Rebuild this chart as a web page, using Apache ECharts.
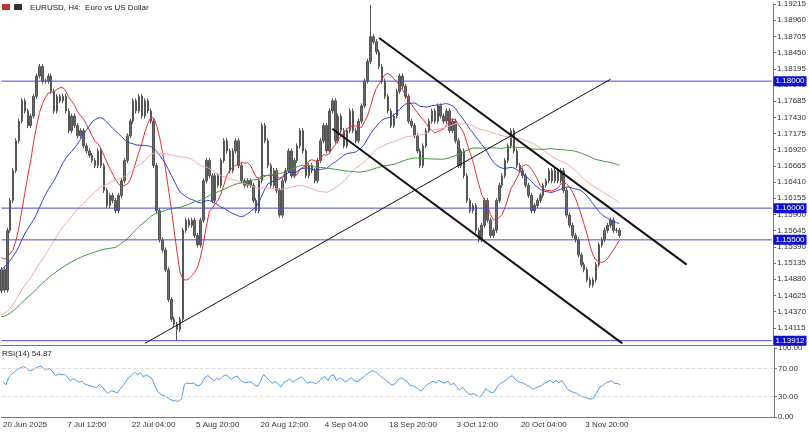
<!DOCTYPE html>
<html><head><meta charset="utf-8">
<script src="https://cdn.jsdelivr.net/npm/echarts@6/dist/echarts.min.js"></script>
<style>html,body{margin:0;padding:0;background:#fff}#c{width:809px;height:432px}</style>
</head><body><div id="c"></div>
<script>
// earlier history (off-screen, only used to warm up the moving averages / RSI)
const priorCloses=[1.1290,1.1310,1.1340,1.1320,1.1290,1.1260,1.1280,1.1310,1.1350,1.1370,1.1350,1.1330,1.1360,1.1390,1.1410,1.1380,1.1350,1.1330,1.1300,1.1320,1.1350,1.1380,1.1400,1.1420,1.1390,1.1370,1.1400,1.1430,1.1450,1.1420,1.1400,1.1380,1.1410,1.1440,1.1470,1.1500,1.1480,1.1450,1.1470,1.1500,1.1530,1.1560,1.1540,1.1510,1.1490,1.1520,1.1550,1.1570,1.1540,1.1510,1.1480,1.1500,1.1530,1.1560,1.1590,1.1560,1.1530,1.1500,1.1480,1.1470];
const closes=[1.1503,1.1471,1.1565,1.1612,1.1659,1.1706,1.1737,1.1769,1.1753,1.1730,1.1745,1.1776,1.1808,1.1823,1.1800,1.1800,1.1808,1.1784,1.1753,1.1776,1.1769,1.1776,1.1753,1.1722,1.1745,1.1730,1.1714,1.1722,1.1698,1.1690,1.1683,1.1675,1.1667,1.1690,1.1667,1.1628,1.1604,1.1620,1.1612,1.1596,1.1620,1.1643,1.1675,1.1714,1.1737,1.1769,1.1753,1.1776,1.1745,1.1769,1.1753,1.1737,1.1667,1.1596,1.1550,1.1534,1.1503,1.1456,1.1425,1.1417,1.1409,1.1425,1.1565,1.1581,1.1573,1.1581,1.1557,1.1542,1.1581,1.1643,1.1675,1.1651,
1.1612,1.1651,1.1636,1.1675,1.1706,1.1690,1.1659,1.1690,1.1706,1.1667,1.1643,1.1636,1.1643,1.1636,1.1612,1.1596,1.1643,1.1730,1.1706,1.1667,1.1636,1.1659,1.1628,1.1589,1.1643,1.1659,1.1690,1.1651,1.1675,1.1698,1.1722,1.1690,1.1651,1.1667,1.1659,1.1643,1.1675,1.1706,1.1730,1.1690,1.1753,1.1769,1.1706,1.1745,1.1722,1.1698,1.1722,1.1753,1.1722,1.1706,1.1737,1.1761,1.1800,1.1831,1.1870,1.1862,1.1846,1.1823,1.1800,1.1776,1.1753,1.1730,1.1745,1.1784,1.1808,1.1792,1.1776,
1.1737,1.1730,1.1714,1.1690,1.1667,1.1698,1.1722,1.1737,1.1753,1.1737,1.1761,1.1745,1.1737,1.1753,1.1722,1.1737,1.1706,1.1667,1.1690,1.1651,1.1612,1.1596,1.1604,1.1565,1.1550,1.1573,1.1612,1.1581,1.1557,1.1565,1.1612,1.1636,1.1651,1.1675,1.1698,1.1722,1.1690,1.1667,1.1659,1.1651,1.1636,1.1620,1.1596,1.1604,1.1612,1.1620,1.1636,1.1643,1.1659,1.1643,1.1659,1.1643,1.1659,1.1628,1.1589,1.1573,1.1557,1.1550,1.1526,1.1511,1.1503,1.1487,1.1479,1.1487,1.1511,1.1542,1.1550,1.1565,1.1573,1.1581,1.1565,1.1565,1.1557];
const padSlots=52;
const xTickIdx=[0,22,44,66,88,110,132,155,177,199];
const xTickLabels=['20 Jun 2025','7 Jul 12:00','22 Jul 04:00','5 Aug 20:00','20 Aug 12:00','4 Sep 04:00','18 Sep 20:00','3 Oct 12:00','20 Oct 04:00','3 Nov 20:00'];
const yTicks=[1.19215,1.18960,1.18705,1.18450,1.18195,1.17940,1.17685,1.17430,1.17175,1.16920,1.16665,1.16410,1.16155,1.15900,1.15645,1.15390,1.15135,1.14880,1.14625,1.14370,1.14115];
const levels=[1.18000,1.16000,1.15500,1.13912];
const maPeriods=[10,30,60,100];
const maColors=['#e03030','#3040d0','#f0a8a8','#3a9a3a'];
const rsiTicks=[0,30,70,100];
const trendLines=[[[129,1.1868],[234,1.1511],2],[[113,1.1725],[212,1.1387],2],[[49,1.1387],[208,1.1803],1]];

const N=closes.length, T=N+padSlots, P=priorCloses.length;
const all=priorCloses.concat(closes);
const cats=[];for(let i=0;i<T;i++)cats.push(String(i));
const candles=closes.map((c,i)=>{const o=i?closes[i-1]:priorCloses[P-1];return [o,c,Math.min(o,c)-0.0004,Math.max(o,c)+0.0004];});
let imax=closes.indexOf(Math.max(...closes)), imin=closes.indexOf(Math.min(...closes));
candles[imax][3]=1.1920; candles[imin][2]=1.1391;
function ma(p){return closes.map((_,j)=>{const i=j+P;const s=Math.max(0,i-p+1);let t=0;for(let k=s;k<=i;k++)t+=all[k];return +(t/(i-s+1)).toFixed(5);});}
function rsi(p){const out=[];let ag=0,al=0;for(let i=1;i<all.length;i++){const d=all[i]-all[i-1];const g=Math.max(d,0),l=Math.max(-d,0);if(i<=p){ag+=g/p;al+=l/p;}else{ag=(ag*(p-1)+g)/p;al=(al*(p-1)+l)/p;}if(i>=P)out.push(al===0?100:+(100-100/(1+ag/al)).toFixed(2));}return out;}
const rsiVals=rsi(14);
const fs=8, fc='#333';
const chart=echarts.init(document.getElementById('c'));
const levelSeries=levels.map((v,k)=>({id:'lvl'+k,type:'line',xAxisIndex:0,yAxisIndex:0,data:[[0,v],[T-1,v]],showSymbol:false,silent:true,
  lineStyle:{color:'#4848d8',width:1},z:4,
  endLabel:{show:true,formatter:()=>v.toFixed(5),color:'#fff',backgroundColor:'#1010d0',fontSize:8,padding:[1,2],distance:2,fontFamily:'Arial'}}));
const trendSeries=trendLines.map((t,k)=>({id:'tr'+k,type:'line',xAxisIndex:0,yAxisIndex:0,data:[t[0],t[1]],showSymbol:false,silent:true,
  lineStyle:{color:'#111',width:t[2]},z:5}));
chart.setOption({
 animation:false,
 graphic:[
  {type:'text',left:30,top:4,style:{text:'EURUSD, H4:  Euro vs US Dollar',fontSize:8,fill:'#222',fontFamily:'Arial'}},
  {type:'rect',shape:{x:2,y:4,width:8,height:6},style:{fill:'#c03030'}},
  {type:'rect',shape:{x:14,y:4,width:8,height:6},style:{fill:'#333'}},
  {type:'text',left:2,top:350,style:{text:'RSI(14) 54.87',fontSize:8,fill:'#222',fontFamily:'Arial'}},
  {type:'line',shape:{x1:0,y1:345.5,x2:774,y2:345.5},style:{stroke:'#777',lineWidth:1}}
 ],
 grid:[{left:0,right:35,top:2,height:342},{left:0,right:35,top:348,height:69}],
 xAxis:[
  {type:'category',gridIndex:0,data:cats,boundaryGap:true,axisLine:{show:false},axisTick:{show:false},axisLabel:{show:false},splitLine:{show:false}},
  {type:'category',gridIndex:1,data:cats,boundaryGap:true,axisLine:{lineStyle:{color:'#777'}},axisTick:{show:false},
   axisLabel:{interval:(i)=>xTickIdx.includes(i),formatter:(v)=>{const k=xTickIdx.indexOf(+v);return k<0?'':xTickLabels[k];},align:'left',fontSize:fs,color:fc,margin:4,fontFamily:'Arial'},splitLine:{show:false}}
 ],
 yAxis:[
  {type:'value',gridIndex:0,position:'right',min:1.13860,max:1.19215,axisLine:{show:true,lineStyle:{color:'#777'}},
   axisTick:{show:true,length:3,customValues:yTicks,lineStyle:{color:'#777'}},
   axisLabel:{customValues:yTicks,formatter:v=>v.toFixed(5),fontSize:fs,color:fc,margin:4,fontFamily:'Arial'},splitLine:{show:false}},
  {type:'value',gridIndex:1,position:'right',min:0,max:100,axisLine:{show:true,lineStyle:{color:'#777'}},
   axisTick:{show:true,length:3,customValues:rsiTicks,lineStyle:{color:'#777'}},
   axisLabel:{customValues:rsiTicks,formatter:v=>v.toFixed(2),fontSize:fs,color:fc,margin:4,fontFamily:'Arial'},splitLine:{show:false}}
 ],
 series:[
  {id:'candles',type:'candlestick',xAxisIndex:0,yAxisIndex:0,data:candles,barWidth:2,
   itemStyle:{color:'#6a6a6a',color0:'#6a6a6a',borderColor:'#555',borderColor0:'#555',borderWidth:1}},
  ...maPeriods.map((p,k)=>({id:'ma'+k,type:'line',xAxisIndex:0,yAxisIndex:0,data:ma(p),showSymbol:false,lineStyle:{color:maColors[k],width:1},z:3})),
  ...levelSeries, ...trendSeries,
  {id:'rsi',type:'line',xAxisIndex:1,yAxisIndex:1,data:rsiVals,showSymbol:false,lineStyle:{color:'#4a9ae8',width:1},
   markLine:{silent:true,symbol:'none',label:{show:false},lineStyle:{color:'#ddd',type:'dashed',width:1},data:[{yAxis:30},{yAxis:70}]}}
 ]
});
</script></body></html>
